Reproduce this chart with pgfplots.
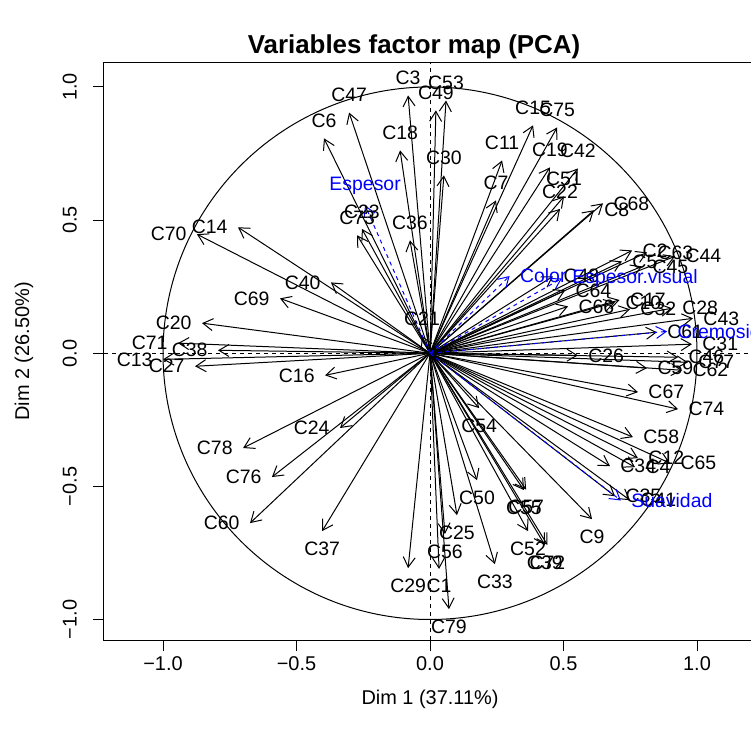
\documentclass[border=0pt]{standalone}
\usepackage{pgfplots}
\pgfplotsset{compat=1.18}
\usepackage{pgfplotstable}
\usetikzlibrary{arrows.meta}
\usepackage{fontspec}
\setmainfont{Liberation Sans}

% Active variables: coordinates on Dim 1 / Dim 2 and the side of the tip where the name goes
\pgfplotstableread{
lab x y a
C1 0.034 -0.810 north
C2 0.757 0.386 west
C3 -0.082 0.968 south
C4 0.768 -0.428 west
C5 0.719 0.345 west
C6 -0.397 0.807 south
C7 0.247 0.574 south
C8 0.614 0.537 west
C9 0.607 -0.623 north
C10 0.693 0.191 west
C11 0.270 0.724 south
C12 0.779 -0.394 west
C13 -1.000 -0.023 east
C14 -0.719 0.473 east
C15 0.386 0.856 south
C16 -0.393 -0.083 east
C17 0.710 0.200 west
C18 -0.112 0.762 south
C19 0.449 0.698 south
C20 -0.854 0.113 east
C21 -0.030 0.064 south
C22 0.487 0.542 south
C23 -0.255 0.467 south
C24 -0.337 -0.281 east
C25 0.101 -0.608 north
C26 0.554 -0.008 west
C27 -0.880 -0.049 east
C28 0.906 0.169 west
C29 -0.082 -0.807 north
C30 0.052 0.668 south
C31 0.981 0.034 west
C32 0.749 0.165 west
C33 0.243 -0.792 north
C34 0.674 -0.424 west
C35 0.693 -0.537 west
C36 -0.075 0.424 south
C37 -0.404 -0.668 north
C38 -0.794 0.011 east
C39 0.430 -0.720 north
C40 -0.371 0.266 east
C41 0.749 -0.552 west
C42 0.554 0.694 south
C43 0.985 0.131 west
C44 0.918 0.364 west
C45 0.794 0.326 west
C46 0.929 -0.015 west
C47 -0.303 0.904 south
C48 0.461 0.289 west
C49 0.022 0.912 south
C50 0.176 -0.477 north
C51 0.502 0.589 south
C52 0.367 -0.668 north
C53 0.060 0.949 south
C54 0.184 -0.206 north
C55 0.352 -0.514 north
C56 0.056 -0.679 north
C57 0.360 -0.512 north
C58 0.760 -0.315 west
C59 0.813 -0.056 west
C60 -0.674 -0.638 east
C61 0.850 0.079 west
C62 0.944 -0.064 west
C63 0.813 0.379 west
C64 0.506 0.236 west
C65 0.899 -0.413 west
C66 0.517 0.176 west
C67 0.779 -0.146 west
C68 0.648 0.563 west
C69 -0.562 0.206 east
C70 -0.873 0.447 east
C71 -0.944 0.038 east
C72 0.440 -0.720 north
C73 -0.273 0.443 south
C74 0.929 -0.210 west
C75 0.476 0.848 south
C76 -0.592 -0.465 east
C77 0.966 -0.034 west
C78 -0.700 -0.356 east
C79 0.071 -0.961 north
}\activevars

% Supplementary variables
\pgfplotstableread{
lab x y a
Espesor -0.243 0.555 south
Color 0.298 0.290 west
Espesor.visual 0.494 0.281 west
Cremosidad 0.888 0.082 west
Suavidad 0.715 -0.553 west
}\supvars

\pgfplotsset{
  varrow/.style={black, line width=1bp, -{Straight Barb[length=10bp,width=12bp]}, forget plot},
  sarrow/.style={blue, line width=1bp, dash pattern=on 4bp off 4bp,
    -{Straight Barb[length=10bp,width=12bp]}, forget plot},
  vlabel/.style={draw=none, mark=none, forget plot,
    every node near coord/.append style={inner sep=0pt, outer sep=10.5bp,
      font=\fontsize{19.5}{23}\selectfont, text=black}},
  slabel/.style={draw=none, mark=none, forget plot,
    every node near coord/.append style={inner sep=0pt, outer sep=10.5bp,
      font=\fontsize{19.5}{23}\selectfont, text=blue}},
}

% one arrow from the origin and its name, for every row of a table
\newcommand\drawvars[3]{%
  \pgfplotstablegetrowsof{#1}%
  \pgfmathtruncatemacro\nlast{\pgfplotsretval-1}%
  \pgfplotsforeachungrouped \i in {0,...,\nlast}{%
    \pgfplotstablegetelem{\i}{x}\of#1\let\px\pgfplotsretval
    \pgfplotstablegetelem{\i}{y}\of#1\let\py\pgfplotsretval
    \pgfplotstablegetelem{\i}{lab}\of#1\let\plab\pgfplotsretval
    \pgfplotstablegetelem{\i}{a}\of#1\let\panc\pgfplotsretval
    \edef\tmp{%
      \noexpand\addplot[#2] coordinates {(0,0) (\px,\py)};%
      \noexpand\addplot[#3, nodes near coords={\plab},
        every node near coord/.append style={anchor=\panc}] coordinates {(\px,\py)};%
    }\tmp
  }%
}

\begin{document}
\begin{tikzpicture}
\begin{axis}[
  name=ax,
  scale only axis,
  width=652bp, height=577bp,
  xmin=-1.221, xmax=1.221, ymin=-1.077, ymax=1.090,
  font=\fontsize{20}{24}\selectfont,
  axis line style={line width=1bp},
  xtick={-1,-0.5,0,0.5,1},
  ytick={-1,-0.5,0,0.5,1},
  xticklabels={−1.0,−0.5,0.0,0.5,1.0},
  yticklabels={−1.0,−0.5,0.0,0.5,1.0},
  tick align=outside,
  xtick pos=left, ytick pos=left,
  major tick length=11bp,
  tick style={line width=1bp, black},
  xticklabel style={anchor=north, inner sep=0pt, yshift=-5bp},
  yticklabel style={xshift=-16bp, rotate=90, anchor=south, inner sep=0pt},
  every axis title/.style={at={(axis description cs:0.4755,1)}, anchor=base,
    yshift=9.5bp, inner sep=0pt, font=\bfseries\fontsize{26}{31}\selectfont},
  every axis x label/.style={at={(axis description cs:0.5,0)}, anchor=base,
    yshift=-64bp, inner sep=0pt},
  every axis y label/.style={at={(axis description cs:-0.115,0.5)}, rotate=90,
    anchor=base, inner sep=0pt},
  title={Variables factor map (PCA)},
  xlabel={Dim 1 (37.11\%)},
  ylabel={Dim 2 (26.50\%)},
]
% reference lines through the origin
\addplot[black, line width=1bp, dash pattern=on 4bp off 4bp, forget plot]
  coordinates {(-1.221,0) (1.221,0)};
\addplot[black, line width=1bp, dash pattern=on 4bp off 4bp, forget plot]
  coordinates {(0,-1.077) (0,1.090)};
% correlation circle
\draw[black, line width=1bp] (axis cs:0,0) ellipse [x radius=1, y radius=1];

\drawvars{\activevars}{varrow}{vlabel}
\drawvars{\supvars}{sarrow}{slabel}
\end{axis}
\pgfresetboundingbox
\path[use as bounding box] (ax.south west) ++(-104bp,-100bp) rectangle ++(751bp,740bp);
\end{tikzpicture}
\end{document}
